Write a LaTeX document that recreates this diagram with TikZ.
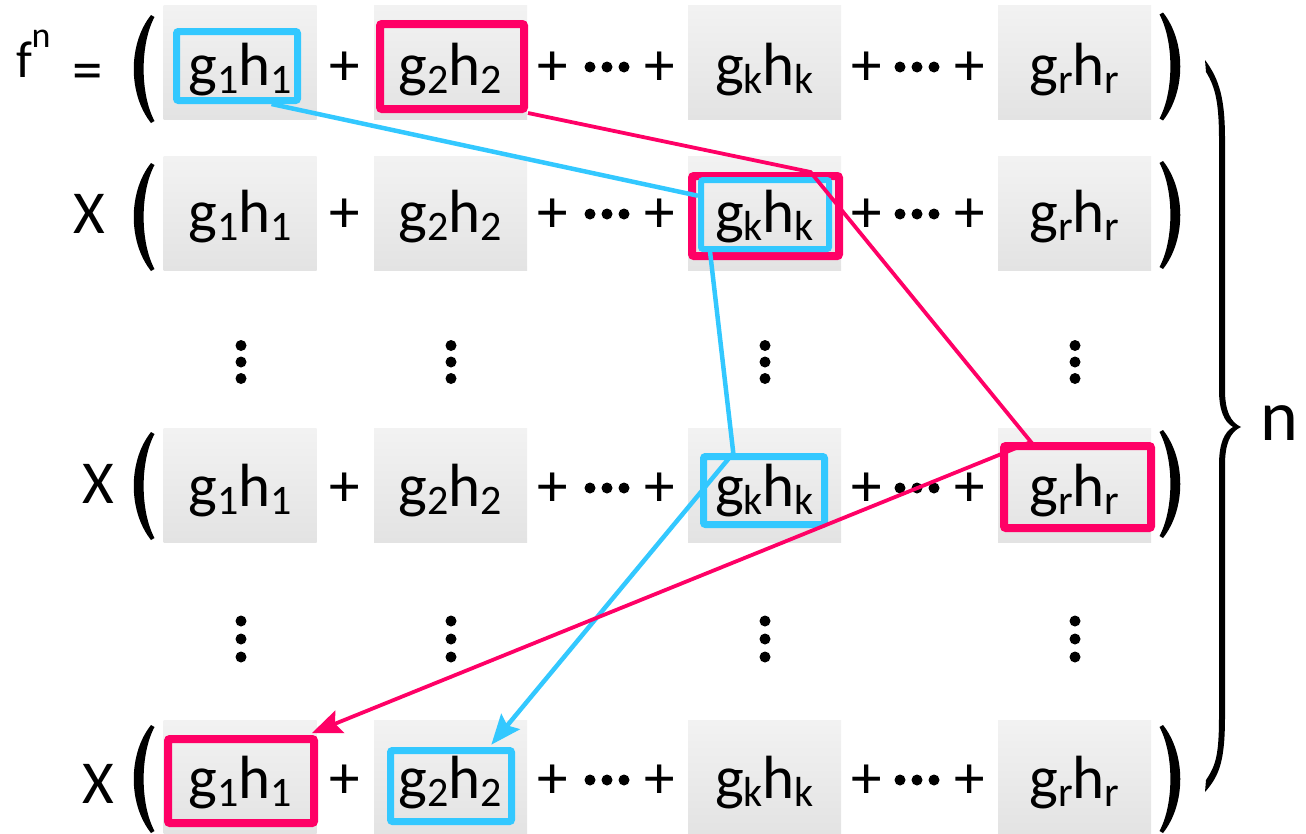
\documentclass[tikz,border=0pt]{standalone}
\usepackage{fontspec}
\setmainfont{Carlito}
\usetikzlibrary{arrows.meta,calc}
\definecolor{hcyan}{RGB}{51,200,255}
\definecolor{hpink}{RGB}{255,0,102}
\newcommand\lowr[1]{\raisebox{-8pt}{\fontsize{42}{42}\selectfont #1}}
\newcommand\gh[2]{g\lowr{#1}h\lowr{#2}}
\tikzset{
  cell/.style={shading=axis, top color=black!5, bottom color=black!11, draw=none,
    minimum width=153pt, minimum height=114pt, inner sep=0pt},
  txt/.style={font=\fontsize{61}{61}\selectfont, anchor=base, inner sep=0pt},
  hl/.style={draw, rounded corners=2pt, inner sep=0pt, fill=none},
  cline/.style={draw=hcyan, line width=4.5pt},
  pline/.style={draw=hpink, line width=3.8pt}
}
\newcommand\lparen[2]{\fill[shift={(#1,#2)}] (0,-54) .. controls (-23,-25) and (-23,25) .. (0,54) -- (3.5,52) .. controls (-11,25) and (-11,-25) .. (3.5,-52) -- cycle;}
\newcommand\rparen[2]{\fill[shift={(#1,#2)},xscale=-1] (0,-54) .. controls (-23,-25) and (-23,25) .. (0,54) -- (3.5,52) .. controls (-11,25) and (-11,-25) .. (3.5,-52) -- cycle;}
\begin{document}
\begin{tikzpicture}[x=1pt,y=-1pt]
\useasboundingbox (0,0) rectangle (1306,833);
% cells and texts
\foreach \r/\yc/\yb in {1/62/85,2/213/232,4/485/506,6/777/798}{
  \foreach \c/\xc/\s in {1/240/1,2/450.5/2,3/764.5/k,4/1074.5/r}{
    \node[cell] (cell-\r-\c) at (\xc,\yc) {};
    \node[txt] (t-\r-\c) at (\xc,\yb) {\gh{\s}{\s}};
  }
  \foreach \xp/\n in {345/a,553/b,660/c,867/d,970/e}{
    \node[txt] (plus-\r-\n) at (\xp,\yb) {+};
  }
  \foreach \xd in {607,917}{
    \fill ($(\xd,\yb)+(-17,-18)$) circle (5.5);
    \fill ($(\xd,\yb)+(0,-18)$) circle (5.5);
    \fill ($(\xd,\yb)+(17,-18)$) circle (5.5);
  }
}
% vertical dots
\foreach \yc/\sp in {362/16.5,639/18}{
  \foreach \xd in {241,451,765,1075}{
    \fill (\xd,\yc-\sp) circle (5.5);
    \fill (\xd,\yc) circle (5.5);
    \fill (\xd,\yc+\sp) circle (5.5);
  }
}
% parentheses
\lparen{151}{69}\rparen{1163}{66.5}
\lparen{151}{217}\rparen{1163}{215}
\lparen{151}{486}\rparen{1163}{484}
\lparen{151}{779}\rparen{1163}{779}
% left labels
\node[inner sep=0pt, anchor=base, font=\fontsize{52}{52}\selectfont] (f) at (24,77) {f};
\node[inner sep=0pt, anchor=base, font=\fontsize{36}{36}\selectfont] (fn) at (41,47) {n};
\node[txt] (eq) at (87.5,90) {=};
\node[txt] (x2) at (89,233) {X};
\node[txt] (x4) at (98,503) {X};
\node[txt] (x6) at (98,803) {X};
% brace
\fill (1205,60) .. controls (1220,80) and (1225,100) .. (1225,140) -- (1225,390)
  .. controls (1225,410) and (1230,422) .. (1241,427) .. controls (1230,432) and (1225,444) .. (1225,465)
  -- (1225,715) .. controls (1225,760) and (1220,775) .. (1205,792)
  -- (1206,780) .. controls (1216,765) and (1219,755) .. (1219,715) -- (1219,465)
  .. controls (1219,444) and (1224,432) .. (1233,427) .. controls (1224,422) and (1219,410) .. (1219,390)
  -- (1219,140) .. controls (1219,105) and (1216,88) .. (1206,72) -- cycle;
\node[inner sep=0pt, anchor=base, font=\fontsize{72}{72}\selectfont] (nlab) at (1279,440) {n};
% highlight boxes
\node[hl, draw=hcyan, line width=7pt, minimum width=121pt, minimum height=69pt] (hc1) at (237,66) {};
\node[hl, draw=hpink, line width=8pt, minimum width=144pt, minimum height=85pt] (hp1) at (452,66.5) {};
\node[hl, draw=hpink, line width=8pt, minimum width=147pt, minimum height=80pt] (hp2) at (765.5,216) {};
\node[hl, draw=hcyan, line width=6pt, minimum width=128pt, minimum height=69pt] (hc2) at (765,214.5) {};
\node[hl, draw=hcyan, line width=7pt, minimum width=121pt, minimum height=68pt] (hc4) at (764,490.5) {};
\node[hl, draw=hpink, line width=8pt, minimum width=147pt, minimum height=82pt] (hp4) at (1077.5,487) {};
\node[hl, draw=hpink, line width=8pt, minimum width=146pt, minimum height=84pt] (hp6) at (241,781) {};
\node[hl, draw=hcyan, line width=7pt, minimum width=121pt, minimum height=71pt] (hc6) at (451,786) {};
% connectors
\draw[cline] ($(hc1.south west)!0.77!(hc1.south east)$) -- ($(hc2.north west)!0.25!(hc2.south west)$);
\draw[cline, -{Stealth[length=30pt,width=24pt,inset=5pt]}, shorten >=3pt]
  ($(hc2.south west)!0.09!(hc2.south east)$) -- ($(hc4.north west)!0.26!(hc4.north east)$)
  -- ($(hc6.north west)!0.8!(hc6.north east)$);
\draw[pline, -{Stealth[length=30pt,width=24pt,inset=5pt]}, shorten >=5pt]
  (hp1.south east) -- ($(hp2.north west)!0.79!(hp2.north east)$)
  -- ($(hp4.north west)!0.2!(hp4.north east)$) -- ($(hp6.north west)!0.93!(hp6.north east)$);
\end{tikzpicture}
\end{document}
